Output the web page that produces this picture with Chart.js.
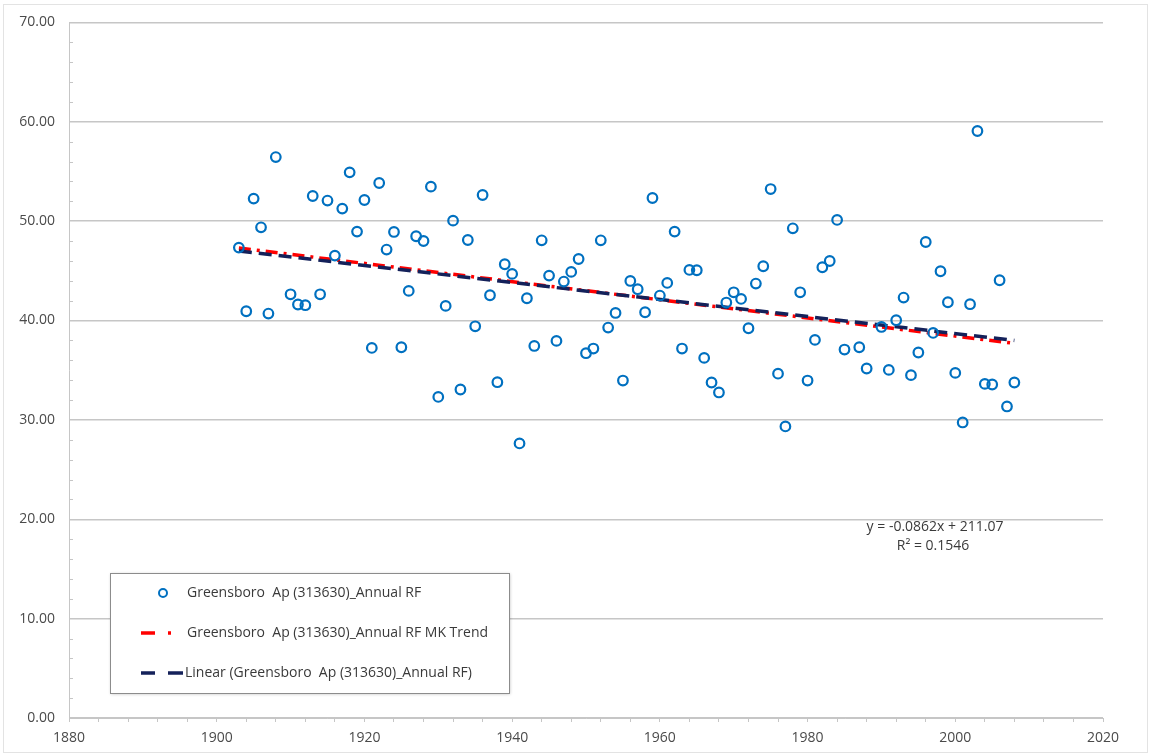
<!DOCTYPE html>
<html lang="en">
<head>
    <meta charset="UTF-8">
    <title>Greensboro Ap (313630) - Annual RF</title>
    <script src="https://cdn.jsdelivr.net/npm/chart.js"></script>
    <style>
        body {
            margin: 0;
            padding: 0;
            background: #fff;
        }

        .chart-box {
            position: relative;
            width: 1151px;
            height: 755px;
        }
    </style>
</head>
<body>
    <div class="chart-box">
        <canvas id="rfChart" width="1151" height="755"></canvas>
    </div>

    <script>
        // Annual rainfall values (1909, 1986, 1989 have no point)
        const years = [
            1903, 1904, 1905, 1906, 1907, 1908, 1910, 1911, 1912, 1913,
            1914, 1915, 1916, 1917, 1918, 1919, 1920, 1921, 1922, 1923,
            1924, 1925, 1926, 1927, 1928, 1929, 1930, 1931, 1932, 1933,
            1934, 1935, 1936, 1937, 1938, 1939, 1940, 1941, 1942, 1943,
            1944, 1945, 1946, 1947, 1948, 1949, 1950, 1951, 1952, 1953,
            1954, 1955, 1956, 1957, 1958, 1959, 1960, 1961, 1962, 1963,
            1964, 1965, 1966, 1967, 1968, 1969, 1970, 1971, 1972, 1973,
            1974, 1975, 1976, 1977, 1978, 1979, 1980, 1981, 1982, 1983,
            1984, 1985, 1987, 1988, 1990, 1991, 1992, 1993, 1994, 1995,
            1996, 1997, 1998, 1999, 2000, 2001, 2002, 2003, 2004, 2005,
            2006, 2007, 2008
        ];
        const rainfall = [
            47.34, 40.93, 52.27, 49.38, 40.70, 56.45, 42.64, 41.61, 41.54, 52.53,
            42.64, 52.07, 46.53, 51.26, 54.91, 48.95, 52.13, 37.24, 53.84, 47.14,
            48.91, 37.31, 42.98, 48.48, 48.00, 53.47, 32.31, 41.47, 50.05, 33.06,
            48.10, 39.42, 52.63, 42.54, 33.79, 45.66, 44.69, 27.63, 42.24, 37.44,
            48.07, 44.52, 37.95, 43.92, 44.89, 46.19, 36.71, 37.18, 48.07, 39.29,
            40.76, 33.96, 43.98, 43.15, 40.83, 52.33, 42.51, 43.78, 48.95, 37.18,
            45.09, 45.06, 36.24, 33.76, 32.76, 41.81, 42.84, 42.17, 39.22, 43.72,
            45.46, 53.23, 34.65, 29.34, 49.28, 42.84, 33.96, 38.05, 45.36, 45.99,
            50.12, 37.08, 37.31, 35.17, 39.35, 35.03, 40.03, 42.31, 34.50, 36.78,
            47.90, 38.75, 44.96, 41.84, 34.73, 29.74, 41.64, 59.07, 33.62, 33.56,
            44.05, 31.35, 33.76
        ];

        // trend line end points
        const mkTrendYears = [1903, 2008];
        const mkTrendValues = [47.3, 37.7];
        const linearYears = [1903, 2008];
        const linearValues = [47.0, 38.0];

        const seriesLabels = [
            'Greensboro  Ap (313630)_Annual RF',
            'Greensboro  Ap (313630)_Annual RF MK Trend',
            'Linear (Greensboro  Ap (313630)_Annual RF)'
        ];
        const equationLines = ['y = -0.0862x + 211.07', 'R\u00b2 = 0.1546'];

        const FONT = "'Open Sans', 'Noto Sans', sans-serif";
        const TEXT_COLOR = '#4a4a4a';
        const GRID_COLOR = '#c6c6c6';
        const DOT_BLUE = '#0070C0';
        const TREND_RED = '#ff0000';
        const NAVY = '#14215a';

        function toPoints(xs, ys) {
            return xs.map((x, i) => ({ x: x, y: ys[i] }));
        }

        // minor ticks on y axis, legend box, equation text and outer frame
        const decorPlugin = {
            id: 'decor',
            afterDraw(chart) {
                const ctx = chart.ctx;
                const yScale = chart.scales.y;
                const area = chart.chartArea;
                ctx.save();

                // outer frame
                ctx.strokeStyle = '#e3e3e3';
                ctx.lineWidth = 1;
                ctx.strokeRect(3.5, 4.5, 1144, 748);

                // y minor ticks (inside)
                ctx.strokeStyle = GRID_COLOR;
                for (let v = 2; v < 70; v += 2) {
                    if (v % 10 === 0) continue;
                    const py = Math.round(yScale.getPixelForValue(v)) + 0.5;
                    ctx.beginPath();
                    ctx.moveTo(area.left, py);
                    ctx.lineTo(area.left + 4, py);
                    ctx.stroke();
                }

                // equation
                ctx.fillStyle = '#3a3a3a';
                ctx.font = '14px ' + FONT;
                ctx.textAlign = 'center';
                ctx.textBaseline = 'middle';
                ctx.fillText(equationLines[0], 935, 527);
                ctx.fillText(equationLines[1], 933, 546);

                // legend
                const lx = 110, ly = 573, lw = 399, lh = 120;
                ctx.fillStyle = '#ffffff';
                ctx.shadowColor = 'rgba(0,0,0,0.25)';
                ctx.shadowBlur = 3;
                ctx.shadowOffsetX = 1;
                ctx.shadowOffsetY = 1;
                ctx.fillRect(lx, ly, lw, lh);
                ctx.shadowColor = 'transparent';
                ctx.strokeStyle = '#8c8c8c';
                ctx.lineWidth = 1;
                ctx.strokeRect(lx + 0.5, ly + 0.5, lw, lh);

                const rows = [593, 633, 673];
                // marker row
                ctx.strokeStyle = DOT_BLUE;
                ctx.lineWidth = 2;
                ctx.beginPath();
                ctx.arc(163, rows[0], 4, 0, Math.PI * 2);
                ctx.stroke();
                // MK trend row
                ctx.strokeStyle = TREND_RED;
                ctx.lineWidth = 3.5;
                ctx.beginPath();
                ctx.moveTo(141, rows[1]);
                ctx.lineTo(155, rows[1]);
                ctx.moveTo(168, rows[1]);
                ctx.lineTo(171, rows[1]);
                ctx.stroke();
                // linear row
                ctx.strokeStyle = NAVY;
                ctx.beginPath();
                ctx.moveTo(141, rows[2]);
                ctx.lineTo(155, rows[2]);
                ctx.moveTo(168, rows[2]);
                ctx.lineTo(183, rows[2]);
                ctx.stroke();

                ctx.fillStyle = '#3a3a3a';
                ctx.textAlign = 'left';
                ctx.fillText(seriesLabels[0], 187, rows[0]);
                ctx.fillText(seriesLabels[1], 187, rows[1]);
                ctx.fillText(seriesLabels[2], 185, rows[2]);
                ctx.restore();
            }
        };

        const ctxRF = document.getElementById('rfChart').getContext('2d');

        const rfChart = new Chart(ctxRF, {
            type: 'scatter',
            data: {
                datasets: [
                    {
                        label: seriesLabels[0],
                        data: toPoints(years, rainfall),
                        showLine: false,
                        pointStyle: 'circle',
                        pointRadius: 4.8,
                        pointBorderWidth: 2.2,
                        pointBorderColor: DOT_BLUE,
                        pointBackgroundColor: 'rgba(255,255,255,0)',
                        order: 0
                    },
                    {
                        label: seriesLabels[2],
                        data: toPoints(linearYears, linearValues),
                        showLine: true,
                        pointRadius: 0,
                        borderColor: NAVY,
                        borderWidth: 3.5,
                        borderDash: [13, 7],
                        order: 1
                    },
                    {
                        label: seriesLabels[1],
                        data: toPoints(mkTrendYears, mkTrendValues),
                        showLine: true,
                        pointRadius: 0,
                        borderColor: TREND_RED,
                        borderWidth: 3.5,
                        borderDash: [12, 6, 3, 6],
                        order: 2
                    }
                ]
            },
            options: {
                responsive: false,
                animation: false,
                layout: {
                    padding: { left: 0, right: 48, top: 22, bottom: 0 }
                },
                plugins: {
                    legend: { display: false },
                    tooltip: { enabled: false }
                },
                scales: {
                    x: {
                        type: 'linear',
                        min: 1880,
                        max: 2020,
                        afterFit(scale) { scale.height = 37; },
                        ticks: {
                            stepSize: 4,
                            autoSkip: false,
                            maxRotation: 0,
                            padding: 8,
                            color: TEXT_COLOR,
                            font: { family: FONT, size: 14 },
                            callback: v => ((v - 1880) % 20 === 0 ? String(v) : '')
                        },
                        grid: {
                            drawOnChartArea: false,
                            tickLength: 4,
                            color: GRID_COLOR
                        },
                        border: { display: true, color: GRID_COLOR, width: 1 }
                    },
                    y: {
                        min: 0,
                        max: 70,
                        afterFit(scale) { scale.width = 69; },
                        ticks: {
                            stepSize: 10,
                            padding: 14,
                            color: TEXT_COLOR,
                            font: { family: FONT, size: 14 },
                            callback: v => v.toFixed(2)
                        },
                        grid: {
                            drawTicks: false,
                            color: GRID_COLOR,
                            lineWidth: 1.5
                        },
                        border: { display: true, color: GRID_COLOR, width: 1 }
                    }
                }
            },
            plugins: [decorPlugin]
        });
    </script>
</body>
</html>
